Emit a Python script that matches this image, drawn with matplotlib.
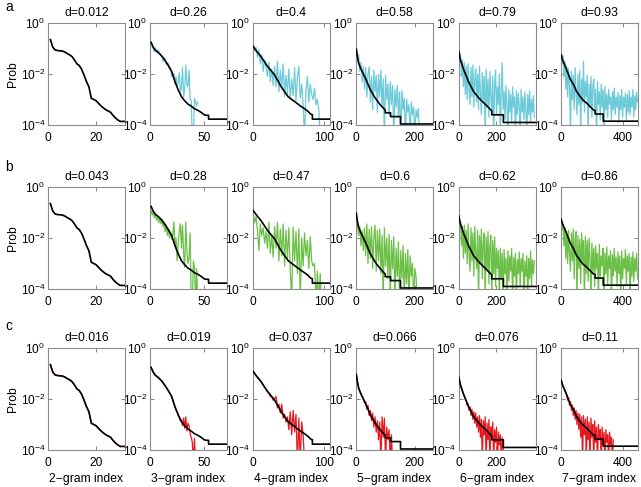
"""
ngram_rank_panels.py
--------------------

Rank-ordered n-gram probabilities (black = reference) against three
generated sequences (cyan / green / red rows), n = 2..7, log y axis.
Values are exponents (log10 prob) read off the original figure.
"""

import numpy as np
import matplotlib
matplotlib.use("Agg")
import matplotlib.pyplot as plt

plt.rcParams["font.family"] = ["Liberation Sans", "DejaVu Sans"]
plt.rcParams["mathtext.fontset"] = "custom"
plt.rcParams["mathtext.rm"] = "Liberation Sans"
plt.rcParams["mathtext.default"] = "regular"

# ---- panel setup ----
NGRAMS = [2, 3, 4, 5, 6, 7]
X_MAX = [32, 71, 108, 263, 407, 496]
X_TICKS = [[0, 20], [0, 50], [0, 100], [0, 200], [0, 200], [0, 400]]
STEP = [1, 1, 2, 4, 5, 6]           # index spacing of the read noisy values
FLOOR = [-3.86, -3.77, -3.77, -3.96, -3.90, -3.85]

ROW_LETTERS = ["a", "b", "c"]
ROW_COLORS = ["#6ccad9", "#6cbf47", "#e8171d"]
D_A = ["0.012", "0.26", "0.4", "0.58", "0.79", "0.93"]
D_B = ["0.043", "0.28", "0.47", "0.6", "0.62", "0.86"]
D_C = ["0.016", "0.019", "0.037", "0.066", "0.076", "0.11"]

# ---- reference (black) curves: knots of x index and log10 prob ----
B2_X = list(range(1, 33))
B2_E = [-0.65, -0.95, -1.06, -1.08, -1.09, -1.10, -1.14, -1.20, -1.25, -1.32,
        -1.45, -1.60, -1.67, -1.82, -2.05, -2.30, -2.50, -2.95, -3.00, -3.05,
        -3.15, -3.25, -3.33, -3.40, -3.45, -3.50, -3.62, -3.72, -3.80, -3.86,
        -3.86, -3.86]
B3_X = [1, 3, 5, 8, 11, 14, 17, 20, 23, 26, 29, 32, 35, 38, 41, 44, 47, 50, 52, 54, 54, 71]
B3_E = [-0.76, -0.95, -1.07, -1.17, -1.30, -1.48, -1.68, -1.90, -2.30, -2.62, -2.89,
        -3.05, -3.18, -3.26, -3.36, -3.42, -3.50, -3.60, -3.62, -3.62, -3.77, -3.77]
B4_X = [1, 5, 12, 21, 31, 40, 50, 59, 68, 74, 78, 82, 84, 84, 108]
B4_E = [-0.92, -1.08, -1.32, -1.70, -2.04, -2.49, -2.89, -3.08, -3.27, -3.38,
        -3.47, -3.58, -3.60, -3.77, -3.77]
B5_X = [1, 5, 9, 15, 21, 32, 49, 66, 83, 100, 100, 118, 118, 152, 152, 263]
B5_E = [-1.03, -1.35, -1.57, -1.75, -1.90, -2.16, -2.62, -2.95, -3.21, -3.42,
        -3.52, -3.52, -3.67, -3.67, -3.96, -3.96]
B6_X = [1, 9, 26, 53, 79, 106, 132, 150, 167, 176, 176, 237, 237, 407]
B6_E = [-1.12, -1.42, -1.80, -2.30, -2.68, -2.93, -3.12, -3.25, -3.38, -3.45,
        -3.60, -3.60, -3.90, -3.90]
B7_X = [1, 10, 28, 58, 81, 100, 124, 143, 167, 186, 207, 220, 220, 272, 272, 496]
B7_E = [-1.26, -1.45, -1.70, -2.18, -2.42, -2.68, -2.89, -3.03, -3.15, -3.27,
        -3.40, -3.44, -3.57, -3.57, -3.85, -3.85]

# ---- row a (cyan) log10 prob, x = 1, 1+step, ... ----
A3 = [-0.74, -0.95, -1.00, -1.12, -0.98, -1.15, -1.05, -1.12, -1.22, -1.28,
      -1.32, -1.50, -1.35, -1.40, -1.62, -1.55, -1.60, -1.80, -1.75, -2.10,
      -2.00, -1.98, -2.40, -2.10, -2.50, -2.30, -1.95, -2.70, -2.55, -1.75,
      -2.90, -2.60, -1.65, -2.40, -2.50, -1.85, -2.95, -3.05, -4.5, -4.5,
      -2.95, -3.10, -3.25, -3.10]
A4 = [-0.80, -1.10, -0.95, -1.35, -1.05, -1.60, -1.25, -1.90, -1.45, -1.75,
      -2.10, -1.55, -2.30, -1.80, -2.45, -1.70, -2.50, -1.50, -2.70, -1.85,
      -2.60, -1.60, -2.90, -2.05, -2.75, -1.80, -3.00, -2.20, -2.85, -1.75,
      -3.05, -2.10, -1.70, -2.95, -2.40, -3.20, -4.5, -2.60, -2.10, -3.10,
      -2.40, -2.80, -3.00, -2.55, -3.20, -3.00, -3.40, -4.5]
A5 = [-0.90, -1.40, -1.25, -1.90, -1.55, -2.30, -1.70, -2.60, -1.75, -2.90,
      -2.00, -1.72, -3.10, -2.10, -3.40, -1.85, -2.70, -2.05, -3.50, -2.00,
      -2.90, -1.85, -3.30, -2.20, -4.5, -2.05, -3.00, -2.40, -3.60, -2.30,
      -3.20, -2.45, -4.5, -2.60, -3.30, -2.45, -3.70, -2.70, -4.5, -2.65,
      -3.40, -2.95, -4.5, -3.00, -3.50, -3.20, -4.5, -3.10, -3.60, -3.30,
      -4.5, -3.40, -3.70, -3.35, -4.5]
A6 = [-0.95, -1.50, -1.20, -2.10, -1.45, -2.50, -1.55, -2.80, -1.70, -3.00,
      -1.60, -2.60, -3.20, -1.75, -2.90, -1.65, -3.30, -2.20, -1.80, -3.10,
      -2.00, -3.40, -1.70, -2.80, -3.60, -1.95, -3.00, -2.10, -4.5, -1.80,
      -3.30, -2.20, -3.70, -1.90, -2.90, -3.50, -2.10, -4.5, -2.40, -1.85,
      -3.60, -2.50, -3.20, -2.00, -4.5, -2.60, -1.55, -3.40, -2.70, -3.80,
      -2.45, -3.20, -4.5, -2.60, -3.50, -2.80, -3.90, -2.50, -3.30, -2.90,
      -4.5, -2.65, -3.60, -2.75, -3.20, -4.5, -2.60, -3.50, -2.90, -3.80,
      -2.70, -3.40, -4.5, -2.80, -3.60, -2.65, -3.90, -3.00, -3.50, -2.85,
      -3.70]
A7 = [-1.00, -1.60, -1.25, -2.10, -1.50, -2.60, -1.70, -2.90, -1.80, -2.40,
      -4.5, -1.90, -3.00, -2.05, -3.40, -1.75, -2.80, -3.60, -2.00, -3.20,
      -1.85, -4.5, -2.20, -3.10, -1.50, -3.50, -2.30, -2.90, -2.05, -4.5,
      -2.40, -3.30, -2.10, -3.70, -2.50, -2.20, -3.50, -2.60, -4.5, -2.30,
      -3.20, -2.70, -3.80, -2.40, -3.30, -2.60, -4.5, -2.50, -3.40, -2.80,
      -3.70, -2.60, -3.20, -2.90, -3.80, -2.70, -3.40, -2.55, -3.60, -2.90,
      -3.30, -2.70, -3.90, -2.85, -3.40, -2.60, -3.70, -2.90, -3.30, -2.75,
      -3.80, -2.80, -3.50, -2.65, -3.60, -2.90, -3.30, -2.60, -3.70, -2.85,
      -3.40, -2.70, -3.10]

# ---- row b (green) ----
G3 = [-0.92, -1.10, -0.98, -1.20, -1.05, -1.30, -1.15, -1.40, -1.20, -1.44,
      -1.30, -1.55, -1.40, -1.75, -1.50, -1.90, -1.65, -2.00, -1.80, -2.05,
      -1.90, -1.37, -2.30, -2.00, -2.89, -2.20, -1.70, -1.44, -2.40, -1.50,
      -2.60, -3.15, -1.37, -2.50, -3.00, -2.75, -1.80, -4.5, -4.5, -2.90,
      -3.15, -4.5, -3.20, -4.5]
G4 = [-1.05, -1.40, -1.15, -1.70, -2.50, -1.45, -1.90, -1.60, -2.20, -1.75,
      -2.40, -1.38, -2.60, -1.90, -2.75, -1.55, -2.40, -1.38, -2.90, -1.65,
      -2.70, -1.45, -3.10, -1.70, -2.80, -1.60, -3.30, -4.5, -1.57, -2.90,
      -1.75, -3.40, -1.65, -4.5, -2.00, -3.10, -1.80, -2.70, -2.10, -3.20,
      -1.95, -2.90, -3.10, -3.00, -4.5, -3.30, -4.5, -3.40, -4.5]
G5 = [-1.05, -1.50, -1.90, -1.55, -2.30, -1.70, -2.50, -1.60, -2.70, -1.45,
      -3.00, -1.65, -2.80, -1.55, -3.20, -2.00, -1.50, -3.30, -1.70, -2.90,
      -1.65, -3.40, -1.90, -4.5, -1.60, -3.10, -2.00, -3.60, -1.85, -4.5,
      -2.10, -3.20, -1.95, -4.5, -2.40, -3.50, -2.15, -4.5, -2.50, -3.60,
      -2.30, -4.5, -2.60, -3.80, -2.45, -4.5, -2.70, -3.50, -3.00, -4.5,
      -3.20, -3.50, -4.5]
G6 = [-1.10, -1.60, -1.35, -2.30, -1.55, -2.80, -1.50, -2.60, -1.70, -3.00,
      -1.45, -2.70, -3.30, -1.60, -2.90, -1.80, -3.50, -1.55, -2.60, -3.20,
      -1.70, -4.5, -1.90, -3.00, -1.65, -3.60, -2.20, -1.80, -4.5, -1.95,
      -3.30, -1.75, -3.80, -2.30, -1.90, -4.5, -2.10, -3.40, -1.95, -3.90,
      -2.40, -3.20, -2.50, -4.5, -2.40, -3.60, -2.60, -4.5, -2.45, -3.40,
      -2.80, -4.5, -2.50, -3.70, -2.70, -3.30, -2.40, -4.5, -2.75, -3.50,
      -2.60, -4.5, -2.85, -3.40, -2.55, -3.90, -2.80, -3.30, -2.60, -4.5,
      -2.90, -3.50, -2.70, -4.5, -2.80, -3.60, -2.50, -3.90, -2.85, -3.40,
      -2.90]
G7 = [-1.25, -1.70, -1.45, -2.30, -1.60, -2.80, -1.75, -3.00, -1.70, -2.60,
      -3.30, -1.80, -2.90, -1.65, -3.60, -2.00, -1.75, -4.5, -1.90, -3.20,
      -2.05, -3.80, -1.80, -2.90, -2.10, -4.5, -1.95, -3.40, -2.10, -3.70,
      -2.00, -2.80, -4.5, -2.20, -3.30, -2.40, -3.90, -2.30, -3.20, -2.60,
      -4.5, -2.25, -3.50, -2.70, -3.10, -2.40, -4.5, -2.60, -3.40, -2.35,
      -3.80, -2.70, -3.20, -2.50, -4.5, -2.65, -3.50, -2.40, -3.30, -2.75,
      -3.90, -2.55, -3.40, -2.70, -4.5, -2.50, -3.60, -2.80, -3.20, -2.45,
      -3.80, -2.70, -3.30, -2.60, -4.5, -2.75, -3.50, -2.55, -3.70, -2.80,
      -3.30, -2.60, -3.60]

# ---- row c (red) ----
R3 = [-0.78, -0.86, -0.96, -1.02, -1.08, -1.10, -1.14, -1.18, -1.22, -1.26,
      -1.31, -1.37, -1.43, -1.49, -1.55, -1.62, -1.69, -1.76, -1.83, -1.92,
      -2.05, -2.18, -2.30, -2.44, -2.50, -2.66, -2.70, -2.85, -2.82, -3.05,
      -2.75, -3.15, -2.70, -3.25, -2.95, -3.05, -3.35, -3.50, -3.70, -4.5,
      -3.55, -4.5]
R4 = [-0.93, -1.00, -1.08, -1.15, -1.22, -1.29, -1.36, -1.45, -1.55, -1.62,
      -1.72, -1.78, -1.90, -1.92, -2.05, -2.00, -1.90, -2.35, -2.20, -2.55,
      -2.20, -2.75, -2.60, -2.90, -2.70, -3.20, -2.50, -3.40, -2.45, -3.30,
      -2.60, -4.5, -2.75, -4.5, -2.90, -3.40, -4.5]
R5 = [-1.03, -1.33, -1.55, -1.70, -1.80, -1.92, -1.98, -2.15, -2.10, -2.40,
      -2.25, -2.65, -2.45, -2.85, -2.55, -3.10, -2.70, -3.30, -2.85, -3.60,
      -2.90, -4.5, -2.70, -3.50, -2.75, -4.5, -3.10, -3.60, -3.20, -4.5,
      -3.40, -4.5]
R6 = [-1.12, -1.32, -1.46, -1.58, -1.70, -1.80, -1.88, -2.00, -2.05, -2.25,
      -2.20, -2.45, -2.30, -2.65, -2.40, -2.80, -2.50, -2.95, -2.55, -3.10,
      -2.70, -3.30, -2.65, -3.50, -2.80, -4.5, -2.85, -3.40, -2.70, -4.5,
      -2.95, -3.60, -2.80, -4.5, -3.10, -3.50, -2.90, -4.5, -3.20, -3.70,
      -3.10, -4.5, -3.30, -3.80, -3.40, -4.5, -3.50, -3.90, -4.5]
R7 = [-1.26, -1.38, -1.50, -1.60, -1.68, -1.78, -1.85, -2.05, -1.95, -2.25,
      -2.10, -2.45, -2.25, -2.65, -2.35, -2.80, -2.45, -3.00, -2.55, -3.20,
      -2.60, -3.50, -2.70, -4.5, -2.65, -3.40, -2.80, -4.5, -2.70, -3.60,
      -2.90, -4.5, -2.75, -3.50, -3.00, -4.5, -2.85, -3.70, -3.10, -4.5,
      -3.00, -3.60, -3.20, -4.5, -3.10, -3.80, -3.30, -4.5, -3.20, -3.70,
      -3.40, -4.5, -3.30, -3.80, -3.50, -4.5, -3.60]

BLACK = [(B2_X, B2_E), (B3_X, B3_E), (B4_X, B4_E),
         (B5_X, B5_E), (B6_X, B6_E), (B7_X, B7_E)]
ROWS = [[B2_E, A3, A4, A5, A6, A7],
        [B2_E, G3, G4, G5, G6, G7],
        [B2_E, R3, R4, R5, R6, R7]]
TITLES = [D_A, D_B, D_C]

# ---- layout in pixels (641 x 487 canvas) ----
W, H = 641, 487
COL_LEFT = [48, 150, 252.5, 356, 458.5, 561]
COL_W = 77
ROW_TOP = [23, 187, 348]
ROW_H = 102
LETTER_Y = [7, 167, 326]


def panel(fig, r, c):
    left = COL_LEFT[c] / W
    bottom = 1 - (ROW_TOP[r] + ROW_H) / H
    ax = fig.add_axes([left, bottom, COL_W / W, ROW_H / H])

    vals = np.array(ROWS[r][c])
    step = STEP[c]
    x = 1 + step * np.arange(len(vals))
    ax.plot(x, 10.0 ** vals, color=ROW_COLORS[r], lw=0.9, zorder=2)

    bx, be = BLACK[c]
    ax.plot(bx, 10.0 ** np.array(be), color="black", lw=1.2, zorder=3)

    ax.set_yscale("log")
    ax.set_ylim(1e-4, 1)
    ax.set_xlim(0, X_MAX[c])
    ax.set_yticks([1e-4, 1e-2, 1])
    ax.yaxis.set_minor_locator(matplotlib.ticker.NullLocator())
    ax.set_xticks(X_TICKS[c])
    ax.tick_params(direction="in", top=True, right=True, length=3, width=0.6,
                   color="0.45", labelsize=8.6, pad=2)
    ax.tick_params(axis="x", pad=5)
    for s in ax.spines.values():
        s.set_color("0.55")
        s.set_linewidth(0.8)
    ax.set_title("d=" + TITLES[r][c], fontsize=8.7, pad=5)
    if c == 0:
        ax.set_ylabel("Prob", fontsize=8.7, labelpad=1)
    if r == 2:
        ax.set_xlabel(f"{NGRAMS[c]}\u2212gram index", fontsize=8.7, labelpad=3)
    return ax


def main():
    fig = plt.figure(figsize=(W / 100, H / 100), dpi=100)
    for r in range(3):
        for c in range(6):
            panel(fig, r, c)
        fig.text(5 / W, 1 - LETTER_Y[r] / H, ROW_LETTERS[r], fontsize=10,
                 ha="left", va="center")
    fig.savefig("out.png", dpi=100)
    plt.close(fig)


if __name__ == "__main__":
    main()
